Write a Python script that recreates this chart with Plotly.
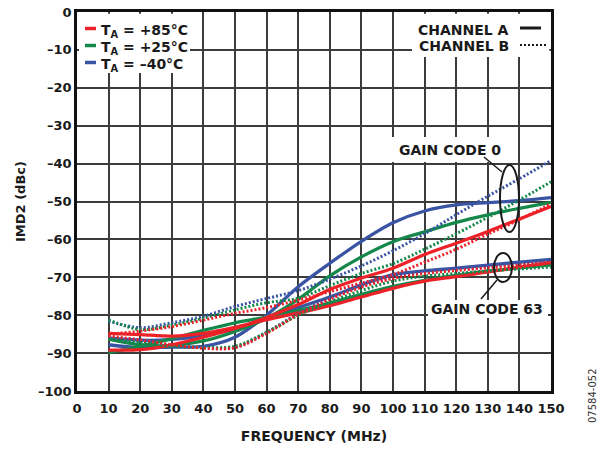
import plotly.graph_objects as go

# ---------------- data ----------------
freq_mhz = [10, 20, 30, 40, 50, 60, 70, 80, 90, 100, 110, 120, 130, 140, 150]

# GAIN CODE 0, channel A (solid)
blue_A_g0 = [-87.8, -88.6, -88.4, -88.2, -85.8, -80.0, -72.5, -66.3, -60.5, -55.6, -52.5, -50.9, -50.3, -49.8, -49.0]
green_A_g0 = [-86.3, -87.8, -88.0, -86.8, -84.3, -80.8, -75.8, -69.6, -64.6, -60.6, -58.0, -55.5, -53.5, -51.8, -50.2]
red_A_g0 = [-89.2, -89.1, -87.8, -85.8, -83.5, -80.6, -77.2, -73.2, -70.2, -67.6, -64.0, -61.0, -57.9, -54.6, -51.3]
# GAIN CODE 0, channel B (dotted)
blue_B_g0 = [-81.6, -83.3, -82.0, -80.3, -77.7, -75.6, -73.5, -70.5, -67.0, -63.0, -58.5, -53.5, -48.6, -44.0, -39.2]
green_B_g0 = [-81.2, -83.8, -82.6, -80.8, -78.6, -76.7, -75.5, -72.2, -69.0, -66.4, -62.6, -58.5, -54.2, -49.6, -44.8]
red_B_g0 = [-85.0, -84.2, -83.0, -81.3, -79.5, -78.0, -76.0, -73.8, -71.5, -69.3, -66.0, -62.6, -58.6, -54.8, -50.6]
# GAIN CODE 63, channel A (solid)
blue_A_g63 = [-86.0, -86.6, -86.4, -85.3, -83.6, -81.0, -78.0, -75.2, -72.0, -69.3, -68.3, -67.6, -66.8, -66.0, -65.3]
green_A_g63 = [-89.8, -88.2, -86.2, -84.0, -82.0, -80.5, -78.7, -76.8, -74.5, -72.4, -70.8, -69.5, -68.4, -67.5, -66.7]
red_A_g63 = [-84.8, -85.1, -85.5, -84.8, -83.2, -81.2, -79.4, -77.5, -75.2, -72.9, -71.0, -69.8, -68.6, -67.3, -66.1]
# GAIN CODE 63, channel B (dotted)
blue_B_g63 = [-86.0, -86.8, -88.0, -88.6, -88.5, -84.5, -79.6, -75.5, -72.3, -70.0, -68.7, -67.9, -67.2, -66.5, -65.8]
green_B_g63 = [-86.3, -87.2, -88.2, -88.5, -88.2, -84.5, -80.0, -76.5, -73.5, -71.0, -69.7, -69.0, -68.3, -67.8, -67.3]
red_B_g63 = [-85.5, -86.5, -87.8, -88.7, -88.6, -84.8, -79.8, -75.8, -72.6, -70.3, -69.0, -68.2, -67.5, -66.8, -66.0]

y_tick_vals = [0, -10, -20, -30, -40, -50, -60, -70, -80, -90, -100]
y_tick_text = ["0", "–10", "–20", "–30", "–40", "–50", "–60", "–70", "–80", "–90", "–100"]
x_tick_vals = [0, 10, 20, 30, 40, 50, 60, 70, 80, 90, 100, 110, 120, 130, 140, 150]

temp_labels = ["T<sub>A</sub> = +85°C", "T<sub>A</sub> = +25°C", "T<sub>A</sub> = –40°C"]
channel_labels = ["CHANNEL A", "CHANNEL B"]

# ---------------- styling ----------------
RED = "#EC2229"
GREEN = "#14884A"
BLUE = "#3A54A4"
FONT = "DejaVu Sans"
DOT = "2px,2px"

fig = go.Figure()

traces = [
    (blue_A_g0, BLUE, "solid"), (blue_A_g63, BLUE, "solid"),
    (green_A_g0, GREEN, "solid"), (green_A_g63, GREEN, "solid"),
    (red_A_g0, RED, "solid"), (red_A_g63, RED, "solid"),
    (blue_B_g0, BLUE, DOT), (blue_B_g63, BLUE, DOT),
    (green_B_g0, GREEN, DOT), (green_B_g63, GREEN, DOT),
    (red_B_g0, RED, DOT), (red_B_g63, RED, DOT),
]
for ys, col, dash in traces:
    fig.add_trace(go.Scatter(
        x=freq_mhz, y=ys, mode="lines", showlegend=False, hoverinfo="skip",
        line=dict(color=col, width=3.3 if dash == "solid" else 3.0, dash=dash,
                  shape="spline", smoothing=0.9)))

# plot-area pixel geometry helpers (for layout items only)
L, R, T, B = 77, 551, 12, 391
def px(x):
    return (x - L) / (R - L)
def py(y):
    return (B - y) / (B - T)

shapes = []
annotations = []

def white_box(x0, y0, x1, y1):
    shapes.append(dict(type="rect", xref="paper", yref="paper", x0=px(x0), x1=px(x1),
                       y0=py(y1), y1=py(y0), fillcolor="white", line=dict(width=0),
                       layer="above"))

def seg(x0, y0, x1, y1, color, width, dash="solid"):
    shapes.append(dict(type="line", xref="paper", yref="paper", x0=px(x0), x1=px(x1),
                       y0=py(y0), y1=py(y1), line=dict(color=color, width=width, dash=dash),
                       layer="above"))

def text(x, y, s, size=14, xanchor="center", bold=True, color="#1a1a1a", angle=0, align="center"):
    annotations.append(dict(xref="paper", yref="paper", x=px(x), y=py(y), text=s,
                            showarrow=False, xanchor=xanchor, yanchor="middle", textangle=angle,
                            align=align,
                            font=dict(family=FONT, size=size, color=color,
                                      weight="bold" if bold else "normal")))

# white boxes first (so swatches and callouts draw over them)
white_box(79, 13.8, 190, 73)
white_box(412, 13.8, 549.3, 57)
white_box(392, 137, 510, 162)
white_box(428, 300, 548, 318)

# temperature legend
for i, (lab, col) in enumerate(zip(temp_labels, [RED, GREEN, BLUE])):
    yc = 30 + i * 17
    seg(85, yc - 1.5, 96, yc - 1.5, col, 3.5)
    text(99, yc + 1, lab, size=14, xanchor="left")

# channel legend
text(511, 30, channel_labels[0], xanchor="right")
text(511, 46, channel_labels[1], xanchor="right")
seg(520, 28, 541, 28, "#1a1a1a", 3)
seg(520, 45, 546, 45, "#1a1a1a", 1.8, DOT)

# gain code callouts
text(450, 150, "GAIN CODE 0")
seg(484, 157, 502, 172, "#1a1a1a", 1.5)
shapes.append(dict(type="circle", xref="paper", yref="paper", x0=px(500), x1=px(519),
                   y0=py(232), y1=py(165), line=dict(color="#1a1a1a", width=2), layer="above"))

text(487, 309, "GAIN CODE 63")
seg(481, 299, 497, 280, "#1a1a1a", 1.5)
shapes.append(dict(type="circle", xref="paper", yref="paper", x0=px(494), x1=px(512),
                   y0=py(282), y1=py(253), line=dict(color="#1a1a1a", width=2), layer="above"))

# figure id
text(592, 396, "07584-052", size=10, bold=False, color="#333333", angle=-90)

axis_common = dict(showgrid=True, gridcolor="#3c3c3c", gridwidth=1.6, zeroline=False,
                   showline=True, linecolor="#111111", linewidth=2.6, mirror=True, ticks="",
                   automargin=False,
                   tickfont=dict(family=FONT, size=13, color="#1a1a1a", weight="bold"))

fig.update_layout(
    width=603, height=450,
    margin=dict(l=L, r=603 - R, t=T, b=450 - B),
    paper_bgcolor="white", plot_bgcolor="white",
    xaxis=dict(range=[0, 150], tickvals=x_tick_vals, ticklabelstandoff=4,
               title=dict(text="FREQUENCY (MHz)", standoff=16,
                          font=dict(family=FONT, size=14, color="#1a1a1a", weight="bold")),
               **axis_common),
    yaxis=dict(range=[-100, 0], tickvals=y_tick_vals, ticktext=y_tick_text,
               title=dict(text="IMD2 (dBc)", standoff=10,
                          font=dict(family=FONT, size=13, color="#1a1a1a", weight="bold")),
               **axis_common),
    shapes=shapes, annotations=annotations,
)

fig.write_html("out.html", config={"displayModeBar": False},
               post_script="document.body.style.margin='0';document.body.style.padding='0';")
